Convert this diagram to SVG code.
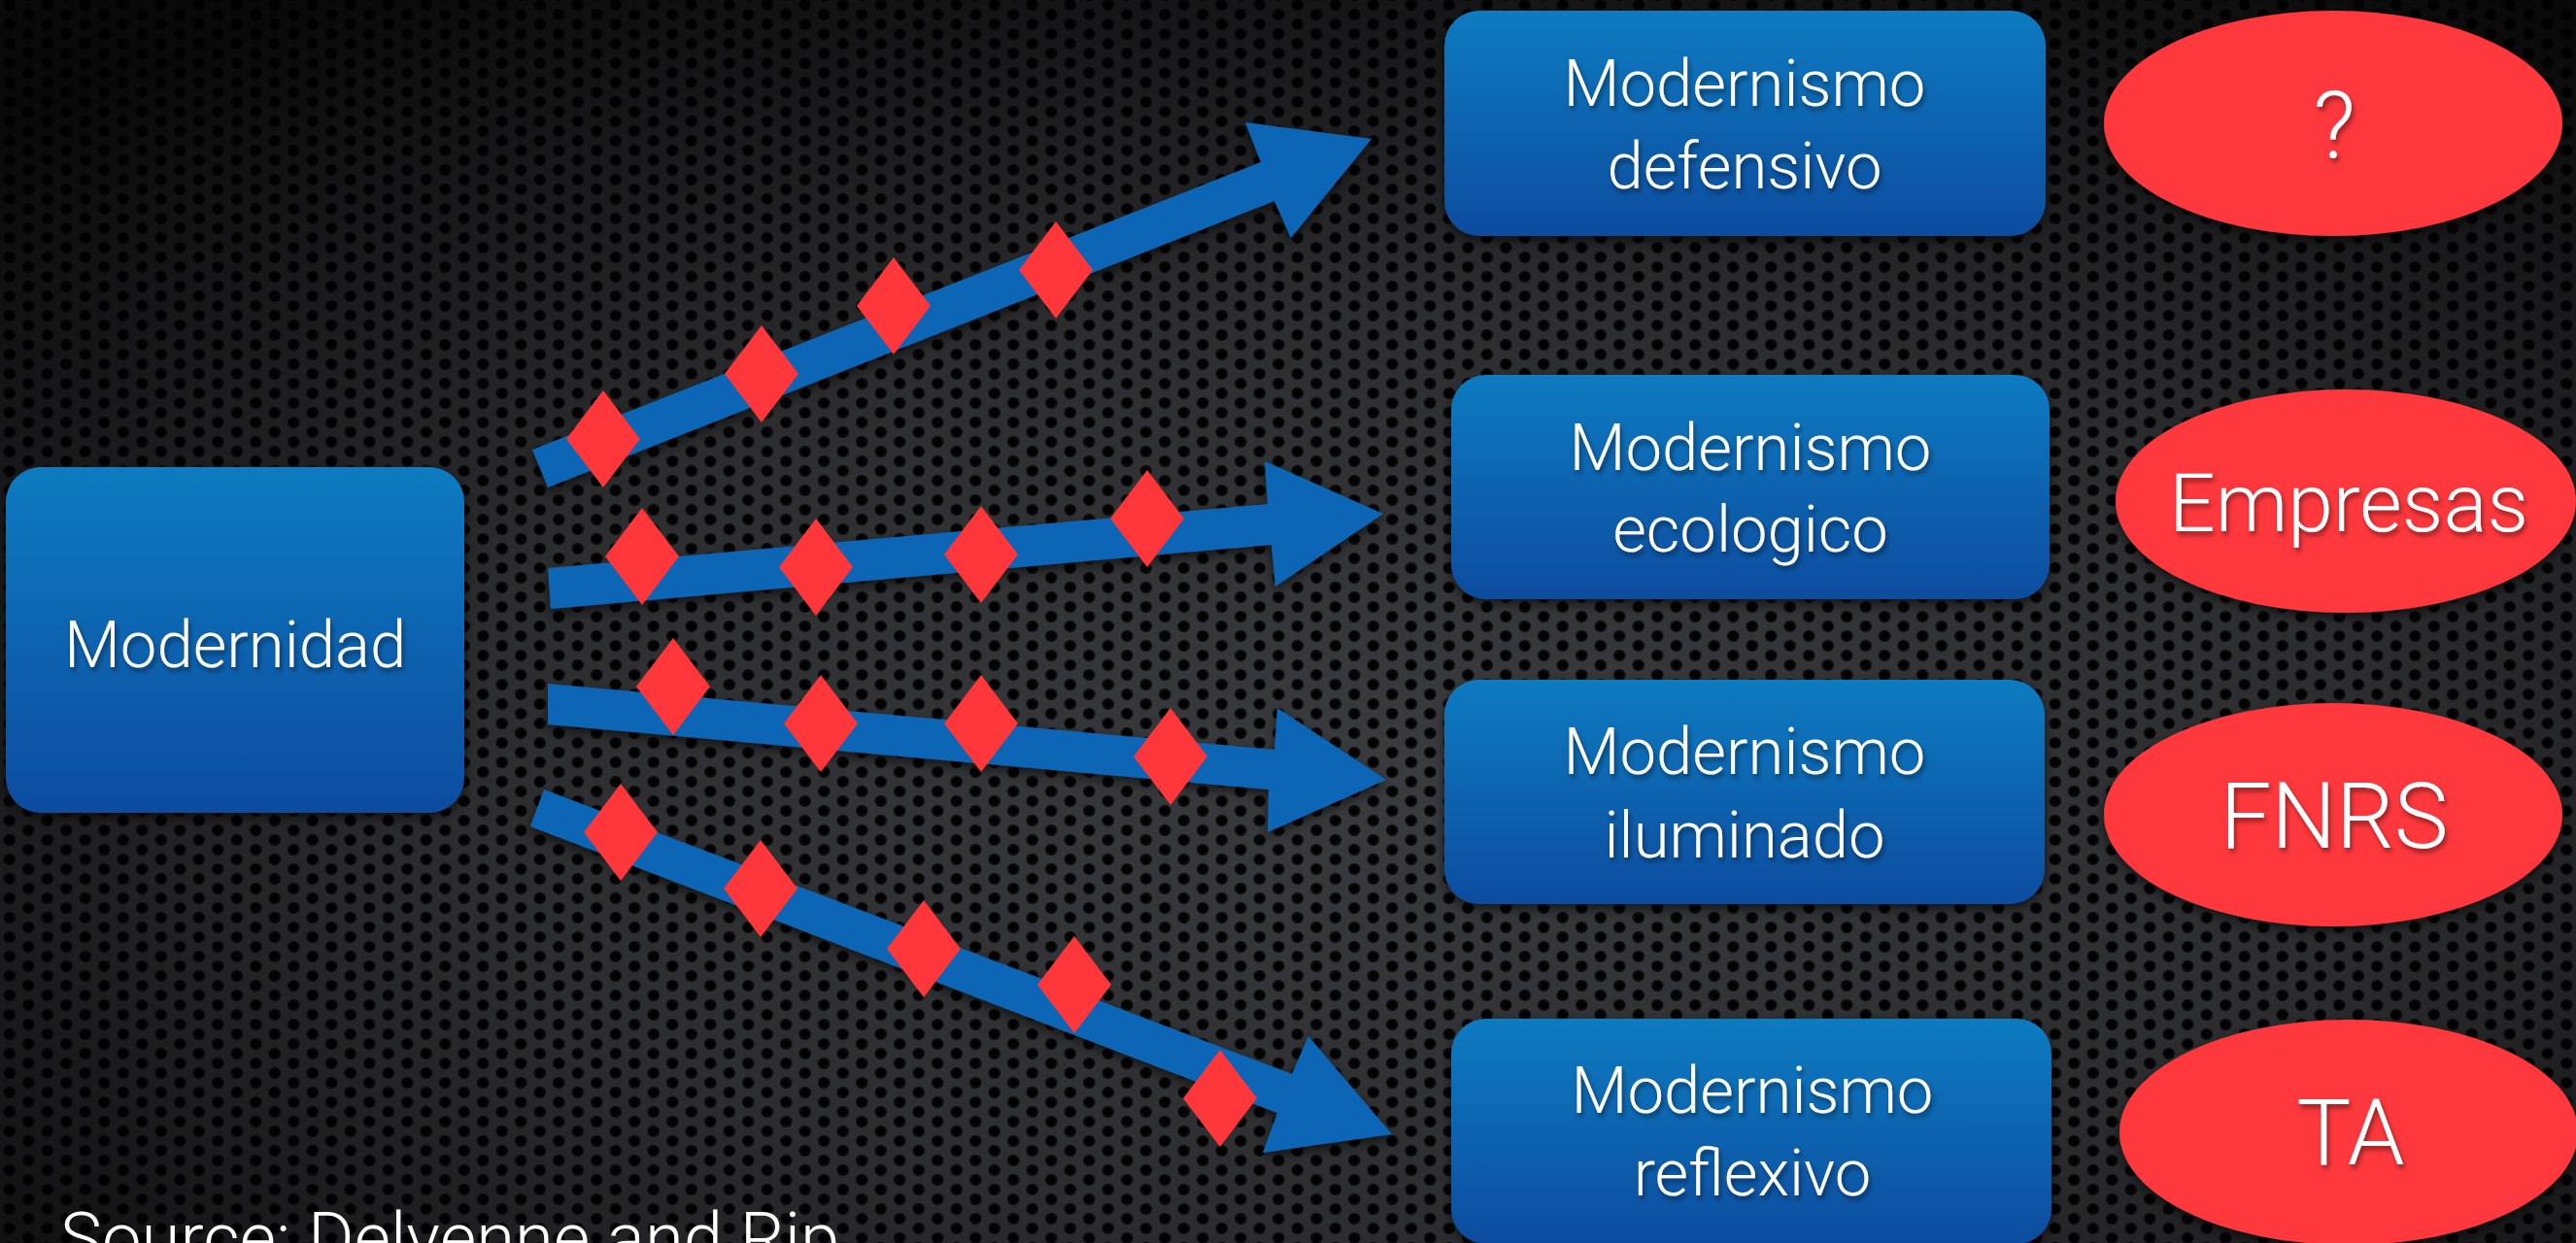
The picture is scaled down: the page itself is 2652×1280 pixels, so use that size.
<svg xmlns="http://www.w3.org/2000/svg" width="2652" height="1280" viewBox="0 0 2652 1280">
  <defs>
    <radialGradient id="hole" cx="0.5" cy="0.5" r="0.5">
      <stop offset="0" stop-color="#000"/>
      <stop offset="0.7" stop-color="#060607"/>
      <stop offset="1" stop-color="#1c1d1f"/>
    </radialGradient>
    <pattern id="mesh" patternUnits="userSpaceOnUse" width="39" height="20">
      <rect width="39" height="20" fill="#3a3b3e"/>
      <ellipse cx="9.75" cy="5" rx="6.5" ry="6.2" fill="url(#hole)"/>
      <ellipse cx="29.25" cy="15" rx="6.5" ry="6.2" fill="url(#hole)"/>
      <ellipse cx="29.25" cy="-5" rx="6.5" ry="6.2" fill="url(#hole)"/>
      <ellipse cx="9.75" cy="25" rx="6.5" ry="6.2" fill="url(#hole)"/>
    </pattern>
    <radialGradient id="vignette" cx="0.55" cy="0.62" r="0.75" gradientUnits="objectBoundingBox">
      <stop offset="0" stop-color="#000" stop-opacity="0"/>
      <stop offset="0.5" stop-color="#000" stop-opacity="0.25"/>
      <stop offset="1" stop-color="#000" stop-opacity="0.85"/>
    </radialGradient>
    <linearGradient id="boxfill" x1="0" y1="0" x2="0" y2="1">
      <stop offset="0" stop-color="#0b7bc0"/>
      <stop offset="1" stop-color="#0a4c9f"/>
    </linearGradient>
    <filter id="shadow" x="-10%" y="-10%" width="120%" height="130%">
      <feDropShadow dx="0" dy="5" stdDeviation="6" flood-color="#000" flood-opacity="0.6"/>
    </filter>
    <filter id="tshadow" x="-10%" y="-20%" width="120%" height="150%">
      <feDropShadow dx="2" dy="4" stdDeviation="2.5" flood-color="#000" flood-opacity="0.45"/>
    </filter>
    <polygon id="dia" points="0,-50 38,0 0,50 -38,0"/>
    <style>
      .box { fill: url(#boxfill); filter: url(#shadow); }
      .oval { fill: #ff383c; filter: url(#shadow); }
      .arrow { fill: #0a66b5; filter: url(#shadow); }
      .diamond { fill: #ff363a; }
      text { font-family: Roboto, "Liberation Sans", Arial, sans-serif; font-weight: 300; fill: #ffffff; }
      .lbl { font-size: 67px; text-anchor: middle; filter: url(#tshadow); }
      .big { font-size: 94px; text-anchor: middle; filter: url(#tshadow); }
      .src { font-size: 72.5px; }
    </style>
  </defs>

  <rect width="2652" height="1280" fill="url(#mesh)"/>
  <rect width="2652" height="1280" fill="url(#vignette)"/>

  <g id="connectors">
    <g id="arrow-defensivo">
      <polygon class="arrow" points="548,463 1298,167 1282,126 1412,143 1329,245 1312,207 564,502"/>
      <use href="#dia" class="diamond" x="621" y="452"/>
      <use href="#dia" class="diamond" x="784" y="385"/>
      <use href="#dia" class="diamond" x="920" y="315"/>
      <use href="#dia" class="diamond" x="1087" y="278"/>
    </g>
    <g id="arrow-ecologico">
      <polygon class="arrow" points="564,585 1305,519 1302,475 1424,529 1313,604 1309,561 567,627"/>
      <use href="#dia" class="diamond" x="661" y="573"/>
      <use href="#dia" class="diamond" x="840" y="584"/>
      <use href="#dia" class="diamond" x="1010" y="571"/>
      <use href="#dia" class="diamond" x="1181" y="534"/>
    </g>
    <g id="arrow-iluminado">
      <polygon class="arrow" points="564,704 1312,772 1315,729 1427,803 1305,857 1306,813 564,746"/>
      <use href="#dia" class="diamond" x="693" y="707"/>
      <use href="#dia" class="diamond" x="845" y="745"/>
      <use href="#dia" class="diamond" x="1010" y="745"/>
      <use href="#dia" class="diamond" x="1205" y="779"/>
    </g>
    <g id="arrow-reflexivo">
      <polygon class="arrow" points="560,813 1330,1106 1347,1067 1433,1168 1300,1187 1315,1146 546,851"/>
      <use href="#dia" class="diamond" x="639" y="857"/>
      <use href="#dia" class="diamond" x="783" y="915"/>
      <use href="#dia" class="diamond" x="951" y="977"/>
      <use href="#dia" class="diamond" x="1106" y="1014"/>
      <use href="#dia" class="diamond" x="1256" y="1131"/>
    </g>
  </g>

  <g id="modernidad">
    <rect class="box" x="6" y="481" width="472" height="356" rx="36"/>
    <text class="lbl" x="242" y="687">Modernidad</text>
  </g>

  <g id="modernismo-defensivo">
    <rect class="box" x="1487" y="11" width="619" height="232" rx="36"/>
    <text class="lbl" x="1796" y="109">Modernismo</text>
    <text class="lbl" x="1796" y="194">defensivo</text>
  </g>
  <g id="modernismo-ecologico">
    <rect class="box" x="1494" y="386" width="616" height="231" rx="36"/>
    <text class="lbl" x="1802" y="484">Modernismo</text>
    <text class="lbl" x="1802" y="568">ecologico</text>
  </g>
  <g id="modernismo-iluminado">
    <rect class="box" x="1487" y="700" width="618" height="231" rx="36"/>
    <text class="lbl" x="1796" y="797">Modernismo</text>
    <text class="lbl" x="1796" y="883">iluminado</text>
  </g>
  <g id="modernismo-reflexivo">
    <rect class="box" x="1494" y="1049" width="618" height="232" rx="36"/>
    <text class="lbl" x="1804" y="1146">Modernismo</text>
    <text class="lbl" x="1804" y="1231">reflexivo</text>
  </g>

  <g id="actor-unknown">
    <ellipse class="oval" cx="2402" cy="127" rx="236" ry="116"/>
    <text class="big" x="2403" y="163" style="font-size:96px">?</text>
  </g>
  <g id="actor-empresas">
    <ellipse class="oval" cx="2415" cy="516" rx="237" ry="115"/>
    <text class="big" x="2418" y="547" style="font-size:84px">Empresas</text>
  </g>
  <g id="actor-fnrs">
    <ellipse class="oval" cx="2402" cy="839" rx="236" ry="115"/>
    <text class="big" x="2403" y="873">FNRS</text>
  </g>
  <g id="actor-ta">
    <ellipse class="oval" cx="2418" cy="1166" rx="236" ry="116"/>
    <text class="big" x="2420" y="1199">TA</text>
  </g>

  <text class="src" x="62" y="1300">Source: Delvenne and Rip</text>
</svg>
